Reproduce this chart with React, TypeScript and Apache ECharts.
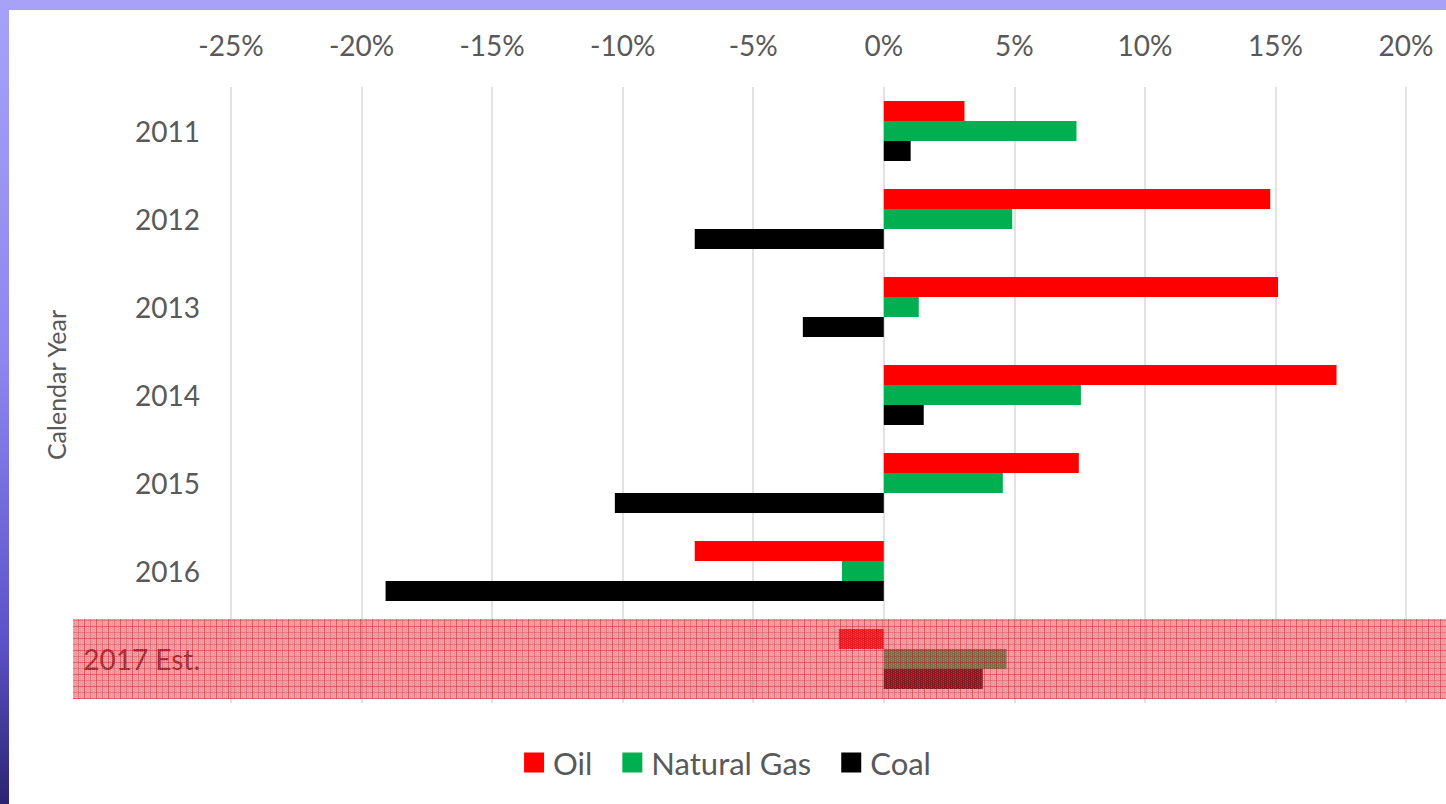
import React, { useEffect, useRef } from "react";
import * as echarts from "echarts";

const categories = ["2011", "2012", "2013", "2014", "2015", "2016", "2017 Est."];
const oil = [3.09, 14.8, 15.1, 17.34, 7.47, -7.24, -1.72];
const naturalGas = [7.38, 4.92, 1.34, 7.55, 4.56, -1.6, 4.7];
const coal = [1.03, -7.24, -3.1, 1.53, -10.3, -19.08, 3.79];

const FONT = "Lato, 'Open Sans', sans-serif";
const TEXT = "#595959";

function makePattern(): string {
  const c = document.createElement("canvas");
  c.width = 12;
  c.height = 12;
  const g = c.getContext("2d");
  if (!g) return "";
  g.fillStyle = "rgba(225,55,65,0.52)";
  g.fillRect(0, 0, 12, 12);
  for (let i = 0; i < 12; i += 2) {
    for (let j = (i / 2) % 2; j < 12; j += 2) {
      g.fillStyle = "rgba(255,255,255,0.2)";
      g.fillRect(i, j, 1, 1);
    }
  }
  g.fillStyle = "rgba(200,15,30,0.42)";
  g.fillRect(3, 0, 1, 12);
  g.fillRect(0, 4, 12, 1);
  g.fillStyle = "rgba(200,15,30,0.26)";
  g.fillRect(9, 0, 1, 12);
  g.fillRect(0, 10, 12, 1);
  return c.toDataURL();
}

export default function App() {
  const ref = useRef<HTMLDivElement>(null);
  useEffect(() => {
    if (!ref.current) return;
    const chart = echarts.init(ref.current, undefined, { renderer: "svg" });
    const barBase = { type: "bar" as const, barWidth: 20, barGap: "0%", emphasis: { disabled: true } };
    chart.setOption({
      animation: false,
      backgroundColor: "#ffffff",
      textStyle: { fontFamily: FONT },
      grid: { left: 222, right: 40, top: 77, bottom: 101, containLabel: false },
      legend: {
        data: ["Oil", "Natural Gas", "Coal"],
        bottom: 21,
        left: "center",
        itemWidth: 20,
        itemHeight: 20,
        itemGap: 30,
        icon: "rect",
        textStyle: { fontSize: 31, color: TEXT, fontFamily: FONT, padding: [0, 0, 0, 4] },
      },
      xAxis: {
        type: "value",
        position: "top",
        min: -25,
        max: 20,
        interval: 5,
        axisLine: { show: false },
        axisTick: { show: false },
        splitLine: { show: true, lineStyle: { color: "#d9d9d9", width: 1.5 } },
        axisLabel: {
          formatter: (v: number) => `${v}%`,
          fontSize: 28,
          color: TEXT,
          margin: 28,
          fontFamily: FONT,
        },
      },
      yAxis: {
        type: "category",
        data: categories,
        inverse: true,
        axisLine: { show: false },
        axisTick: { show: false },
        name: "Calendar Year",
        nameLocation: "middle",
        nameRotate: 90,
        nameGap: 163,
        nameTextStyle: { fontSize: 25, color: TEXT, fontFamily: FONT, padding: [0, 0, 0, 20] },
        axisLabel: {
          fontSize: 28,
          color: TEXT,
          margin: 31,
          fontFamily: FONT,
          formatter: (v: string) => (v === categories[categories.length - 1] ? `{est|${v}}` : v),
          rich: { est: { fontSize: 28, color: "#4a1e22", fontFamily: FONT } },
        },
      },
      series: [
        { ...barBase, name: "Oil", data: oil, itemStyle: { color: "#ff0000" } },
        { ...barBase, name: "Natural Gas", data: naturalGas, itemStyle: { color: "#00b050" } },
        { ...barBase, name: "Coal", data: coal, itemStyle: { color: "#000000" } },
      ],
    });
    const yc = chart.convertToPixel({ yAxisIndex: 0 }, categories[categories.length - 1]) as number;
    const pattern = makePattern();
    chart.setOption({
      graphic: [
        {
          type: "rect",
          z: 100,
          silent: true,
          shape: { x: 64, y: yc - 40, width: 1437 - 64, height: 80 },
          style: pattern
            ? { fill: { image: pattern, repeat: "repeat" } as any }
            : { fill: "rgba(220,40,50,0.45)" },
        },
      ],
    });
    return () => chart.dispose();
  }, []);
  return (
    <div
      style={{
        position: "fixed",
        left: 0,
        top: 0,
        width: 1446,
        height: 804,
        background: "linear-gradient(180deg, #a7a2f7 0%, #8d86ef 45%, #5c52c8 80%, #2c2470 100%)",
        overflow: "hidden",
      }}
    >
      <div ref={ref} style={{ position: "absolute", left: 9, top: 10, width: 1437, height: 794 }} />
    </div>
  );
}
